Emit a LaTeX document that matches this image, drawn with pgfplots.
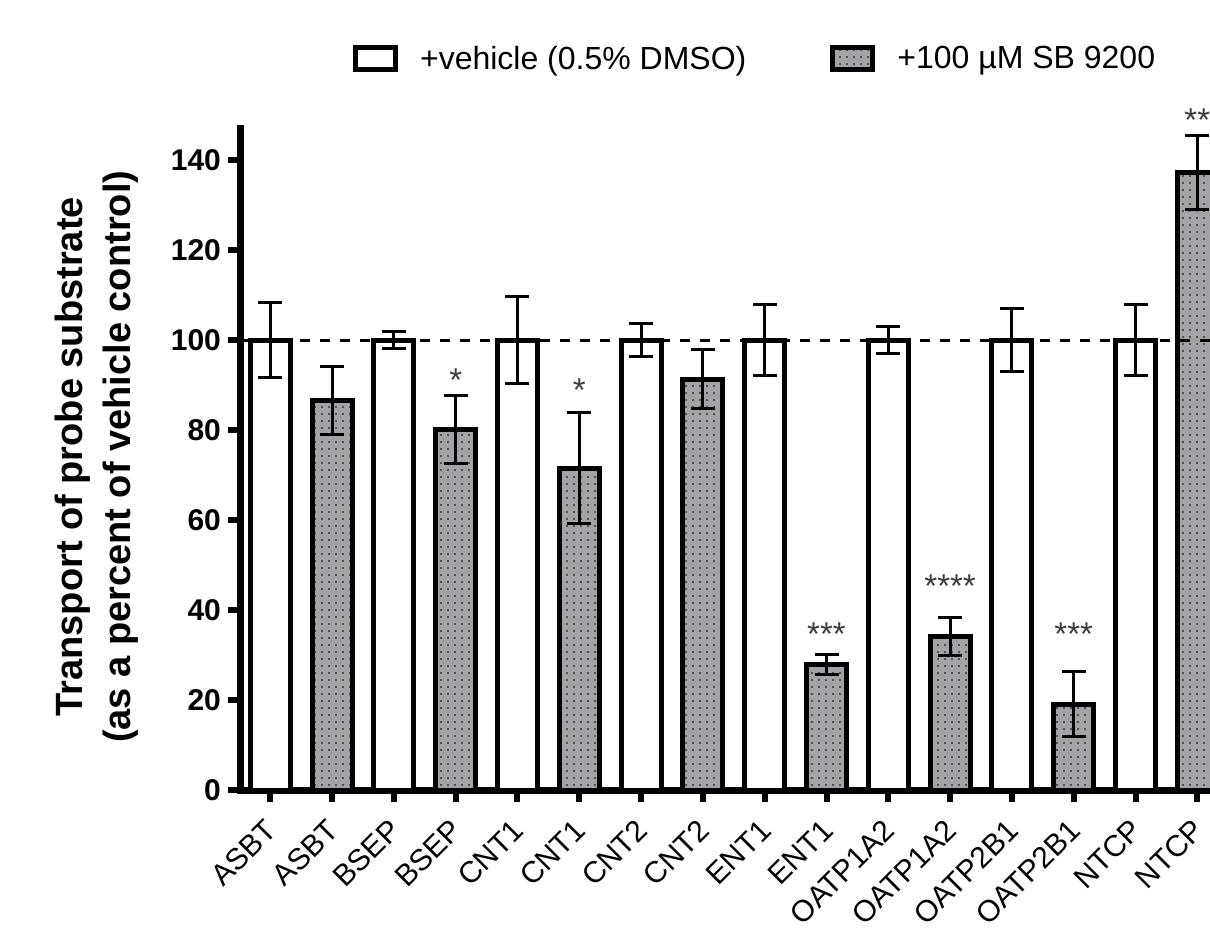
\documentclass[border=0pt]{standalone}
\usepackage{fontspec}
\setmainfont{Liberation Sans}
\usepackage{pgfplots}
\pgfplotsset{compat=1.18}
\usetikzlibrary{patterns.meta}
\definecolor{bargray}{RGB}{163,163,168}
\definecolor{stargray}{RGB}{60,60,60}

\pgfplotstableread{
x y e
0 100 8.4
2 100 1.8
4 100 9.6
6 100 3.7
8 100 7.9
10 100 2.9
12 100 6.9
14 100 7.8
}\vehicle

\pgfplotstableread{
x y e
1 86.6 7.5
3 80.1 7.6
5 71.5 12.3
7 91.3 6.5
9 27.9 2.2
11 34.2 4.2
13 19.1 7.2
15 137.3 8.2
}\sbdata

\begin{document}
\begin{tikzpicture}
\path[use as bounding box] (0,0) rectangle (605pt,466pt);
\begin{axis}[
  at={(120pt,71pt)}, anchor=south west,
  scale only axis, width=497.2pt, height=330.5pt,
  xmin=-0.49, xmax=15.6, ymin=0, ymax=146.9,
  clip=false,
  axis lines=left,
  axis line style={line width=3.5pt, -, line cap=rect},
  xtick={0,...,15},
  xticklabels={ASBT,ASBT,BSEP,BSEP,CNT1,CNT1,CNT2,CNT2,ENT1,ENT1,OATP1A2,OATP1A2,OATP2B1,OATP2B1,NTCP,NTCP},
  ytick={0,20,...,140},
  tick align=outside,
  major tick length=6pt,
  tick style={line width=3pt, black},
  /pgf/number format/assume math mode=true,
  yticklabel style={font=\fontsize{15}{18}\selectfont\bfseries},
  xticklabel style={font=\fontsize{15}{18}\selectfont, xshift=3pt, yshift=-9pt, rotate=45, anchor=east},
  ylabel={Transport of probe substrate\\(as a percent of vehicle control)},
  ylabel style={font=\fontsize{19}{24}\selectfont\bfseries, align=center, at={(axis description cs:-0.1438,0.504)}, anchor=center},
  legend style={at={(axis description cs:0.519,1.106)}, anchor=center, draw=none, fill=none,
    font=\fontsize{16}{19}\selectfont,
    /tikz/every even column/.append style={column sep=40pt},
    /tikz/every odd column/.append style={column sep=9pt}},
  legend columns=2,
  legend cell align=left,
]
\addlegendimage{legend image code/.code={\draw[line width=2.5pt, fill=white] (-1pt,-5.5pt) rectangle (19pt,5.5pt);}}
\addlegendentry{+vehicle (0.5\% DMSO)}
\addlegendimage{legend image code/.code={\draw[line width=2.5pt, fill=bargray, postaction={pattern={Dots[distance=3.5pt,radius=0.45pt]}, pattern color=black}] (-1pt,-5.5pt) rectangle (19pt,5.5pt);}}
\addlegendentry{+100 µM SB 9200}

\addplot[ybar, bar width=20pt, bar shift=0pt, draw=black, line width=2.5pt, fill=white,
  error bars/.cd, y dir=both, y explicit,
  error bar style={line width=1.5pt, black},
  error mark options={rotate=90, line width=1.5pt, mark size=6pt, black}]
  table[x=x, y=y, y error=e] {\vehicle};

\addplot[ybar, bar width=20pt, bar shift=0pt, draw=black, line width=2.5pt, fill=bargray,
  postaction={pattern={Dots[distance=3.5pt,radius=0.45pt]}, pattern color=black},
  error bars/.cd, y dir=both, y explicit,
  error bar style={line width=1.5pt, black},
  error mark options={rotate=90, line width=1.5pt, mark size=6pt, black}]
  table[x=x, y=y, y error=e] {\sbdata};

\addplot[black, line width=1.5pt, dash pattern=on 5pt off 5pt, forget plot] coordinates {(-0.49,100) (15.6,100)};

\begin{scope}[every node/.style={font=\fontsize{16.5}{16.5}\selectfont, text=stargray, anchor=base}]
\node at (axis cs:3,88.6) {*};
\node at (axis cs:5,86.4) {*};
\node at (axis cs:9,32.2) {***};
\node at (axis cs:11,42.8) {****};
\node at (axis cs:13,32.2) {***};
\node at (axis cs:15,146.4) {**};
\end{scope}
\end{axis}
\end{tikzpicture}
\end{document}
